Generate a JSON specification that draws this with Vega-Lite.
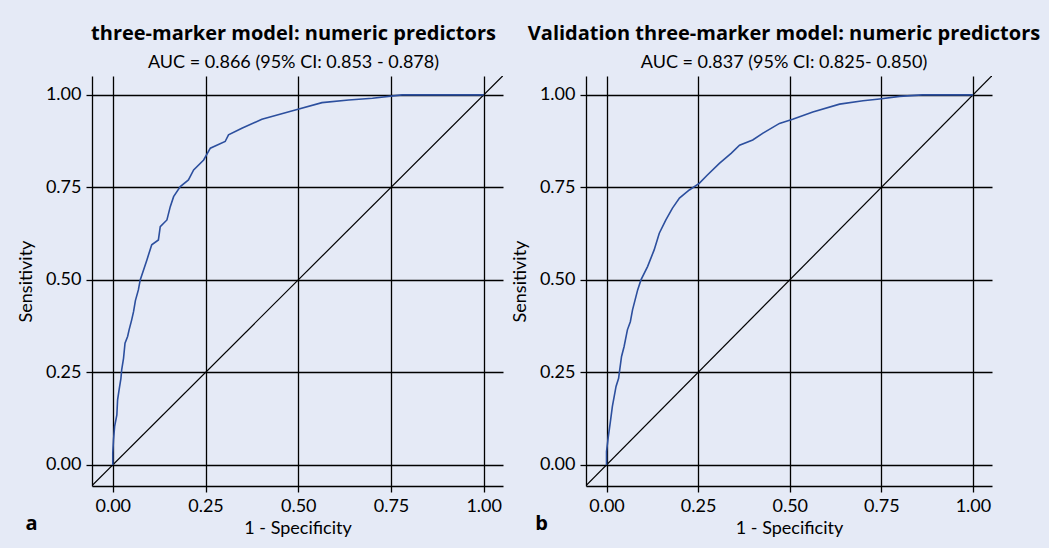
{
  "$schema": "https://vega.github.io/schema/vega-lite/v6.json",
  "background": "#e5eaf6",
  "padding": {"left": 17, "top": 24, "right": 11, "bottom": 11},
  "spacing": 83,
  "bounds": "flush",
  "datasets": {
    "diag": [{"x": -0.2, "y": -0.2}, {"x": 1.2, "y": 1.2}],
    "rocA": [
      {"fpr": 0, "tpr": 0}, {"fpr": 0, "tpr": 0.032}, {"fpr": 0.002, "tpr": 0.068}, {"fpr": 0.005, "tpr": 0.104},
      {"fpr": 0.011, "tpr": 0.135}, {"fpr": 0.013, "tpr": 0.176}, {"fpr": 0.017, "tpr": 0.203}, {"fpr": 0.022, "tpr": 0.234},
      {"fpr": 0.024, "tpr": 0.257}, {"fpr": 0.029, "tpr": 0.288}, {"fpr": 0.033, "tpr": 0.329}, {"fpr": 0.040, "tpr": 0.347},
      {"fpr": 0.044, "tpr": 0.365}, {"fpr": 0.051, "tpr": 0.392}, {"fpr": 0.056, "tpr": 0.414}, {"fpr": 0.061, "tpr": 0.444},
      {"fpr": 0.069, "tpr": 0.473}, {"fpr": 0.074, "tpr": 0.5}, {"fpr": 0.092, "tpr": 0.554}, {"fpr": 0.105, "tpr": 0.595},
      {"fpr": 0.123, "tpr": 0.608}, {"fpr": 0.128, "tpr": 0.644}, {"fpr": 0.146, "tpr": 0.662}, {"fpr": 0.155, "tpr": 0.698},
      {"fpr": 0.164, "tpr": 0.725}, {"fpr": 0.182, "tpr": 0.752}, {"fpr": 0.204, "tpr": 0.770}, {"fpr": 0.218, "tpr": 0.797},
      {"fpr": 0.245, "tpr": 0.824}, {"fpr": 0.263, "tpr": 0.856}, {"fpr": 0.303, "tpr": 0.874}, {"fpr": 0.312, "tpr": 0.892},
      {"fpr": 0.348, "tpr": 0.910}, {"fpr": 0.402, "tpr": 0.934}, {"fpr": 0.492, "tpr": 0.959}, {"fpr": 0.564, "tpr": 0.979},
      {"fpr": 0.636, "tpr": 0.986}, {"fpr": 0.70, "tpr": 0.991}, {"fpr": 0.78, "tpr": 1.0}, {"fpr": 1.0, "tpr": 1.0}
    ],
    "rocB": [
      {"fpr": 0, "tpr": 0}, {"fpr": 0, "tpr": 0.036}, {"fpr": 0.005, "tpr": 0.077}, {"fpr": 0.010, "tpr": 0.113},
      {"fpr": 0.016, "tpr": 0.158}, {"fpr": 0.021, "tpr": 0.185}, {"fpr": 0.026, "tpr": 0.212}, {"fpr": 0.033, "tpr": 0.234},
      {"fpr": 0.036, "tpr": 0.257}, {"fpr": 0.041, "tpr": 0.293}, {"fpr": 0.048, "tpr": 0.320}, {"fpr": 0.057, "tpr": 0.365},
      {"fpr": 0.065, "tpr": 0.387}, {"fpr": 0.071, "tpr": 0.419}, {"fpr": 0.078, "tpr": 0.446}, {"fpr": 0.085, "tpr": 0.473},
      {"fpr": 0.094, "tpr": 0.5}, {"fpr": 0.112, "tpr": 0.536}, {"fpr": 0.130, "tpr": 0.581}, {"fpr": 0.144, "tpr": 0.626},
      {"fpr": 0.162, "tpr": 0.662}, {"fpr": 0.180, "tpr": 0.694}, {"fpr": 0.199, "tpr": 0.721}, {"fpr": 0.226, "tpr": 0.743},
      {"fpr": 0.253, "tpr": 0.761}, {"fpr": 0.276, "tpr": 0.784}, {"fpr": 0.308, "tpr": 0.815}, {"fpr": 0.340, "tpr": 0.842},
      {"fpr": 0.363, "tpr": 0.864}, {"fpr": 0.399, "tpr": 0.878}, {"fpr": 0.426, "tpr": 0.896}, {"fpr": 0.472, "tpr": 0.923},
      {"fpr": 0.508, "tpr": 0.934}, {"fpr": 0.563, "tpr": 0.954}, {"fpr": 0.636, "tpr": 0.975}, {"fpr": 0.70, "tpr": 0.984},
      {"fpr": 0.745, "tpr": 0.989}, {"fpr": 0.80, "tpr": 0.996}, {"fpr": 0.862, "tpr": 1.0}, {"fpr": 1.0, "tpr": 1.0}
    ],
    "labA": [{"panel": "a"}],
    "labB": [{"panel": "b"}]
  },
  "hconcat": [
    {
      "width": 411,
      "height": 410,
      "title": {
        "text": "three-marker model: numeric predictors",
        "subtitle": "AUC = 0.866 (95% CI: 0.853 - 0.878)",
        "dx": -4
      },
      "layer": [
        {
          "data": {"name": "diag"},
          "mark": {"type": "line", "color": "black", "strokeWidth": 1.2, "clip": true},
          "encoding": {
            "x": {"field": "x", "type": "quantitative", "scale": {"domain": [-0.056, 1.052], "nice": false, "zero": false},
                  "axis": {"values": [0, 0.25, 0.5, 0.75, 1], "format": ".2f", "title": "1 - Specificity"}},
            "y": {"field": "y", "type": "quantitative", "scale": {"domain": [-0.057, 1.051], "nice": false, "zero": false},
                  "axis": {"values": [0, 0.25, 0.5, 0.75, 1], "format": ".2f", "title": "Sensitivity"}}
          }
        },
        {
          "data": {"name": "rocA"},
          "mark": {"type": "line", "color": "#2c4f9e", "strokeWidth": 1.6},
          "encoding": {
            "x": {"field": "fpr", "type": "quantitative"},
            "y": {"field": "tpr", "type": "quantitative"}
          }
        },
        {
          "data": {"name": "labA"},
          "mark": {"type": "text", "font": "Open Sans", "fontWeight": "bold", "fontSize": 20, "align": "center", "baseline": "alphabetic", "color": "black"},
          "encoding": {
            "x": {"datum": -0.219},
            "y": {"datum": -0.176},
            "text": {"field": "panel"}
          }
        }
      ]
    },
    {
      "width": 406,
      "height": 410,
      "title": {
        "text": "Validation three-marker model: numeric predictors",
        "subtitle": "AUC = 0.837 (95% CI: 0.825- 0.850)",
        "dx": -5
      },
      "layer": [
        {
          "data": {"name": "diag"},
          "mark": {"type": "line", "color": "black", "strokeWidth": 1.2, "clip": true},
          "encoding": {
            "x": {"field": "x", "type": "quantitative", "scale": {"domain": [-0.056, 1.052], "nice": false, "zero": false},
                  "axis": {"values": [0, 0.25, 0.5, 0.75, 1], "format": ".2f", "title": "1 - Specificity"}},
            "y": {"field": "y", "type": "quantitative", "scale": {"domain": [-0.057, 1.051], "nice": false, "zero": false},
                  "axis": {"values": [0, 0.25, 0.5, 0.75, 1], "format": ".2f", "title": "Sensitivity"}}
          }
        },
        {
          "data": {"name": "rocB"},
          "mark": {"type": "line", "color": "#2c4f9e", "strokeWidth": 1.6},
          "encoding": {
            "x": {"field": "fpr", "type": "quantitative"},
            "y": {"field": "tpr", "type": "quantitative"}
          }
        },
        {
          "data": {"name": "labB"},
          "mark": {"type": "text", "font": "Open Sans", "fontWeight": "bold", "fontSize": 20, "align": "center", "baseline": "alphabetic", "color": "black"},
          "encoding": {
            "x": {"datum": -0.177},
            "y": {"datum": -0.176},
            "text": {"field": "panel"}
          }
        }
      ]
    }
  ],
  "config": {
    "font": "Lato",
    "view": {"stroke": null},
    "axis": {
      "grid": true, "gridColor": "black", "gridOpacity": 1, "gridWidth": 1.3,
      "domainColor": "black", "domainWidth": 1.3,
      "tickColor": "black", "tickWidth": 1.3, "tickSize": 6,
      "labelFontSize": 18, "labelColor": "black", "labelPadding": 5, "labelFlush": false,
      "titleFontSize": 18, "titleFontWeight": "normal", "titleColor": "black"
    },
    "axisX": {"titlePadding": 4},
    "axisY": {"titlePadding": 10},
    "title": {
      "anchor": "middle", "frame": "group", "font": "Open Sans", "fontSize": 20, "fontWeight": "bold", "color": "black",
      "subtitleFont": "Lato", "subtitleFontSize": 18, "subtitleColor": "black", "subtitlePadding": 10, "offset": 4
    }
  }
}
